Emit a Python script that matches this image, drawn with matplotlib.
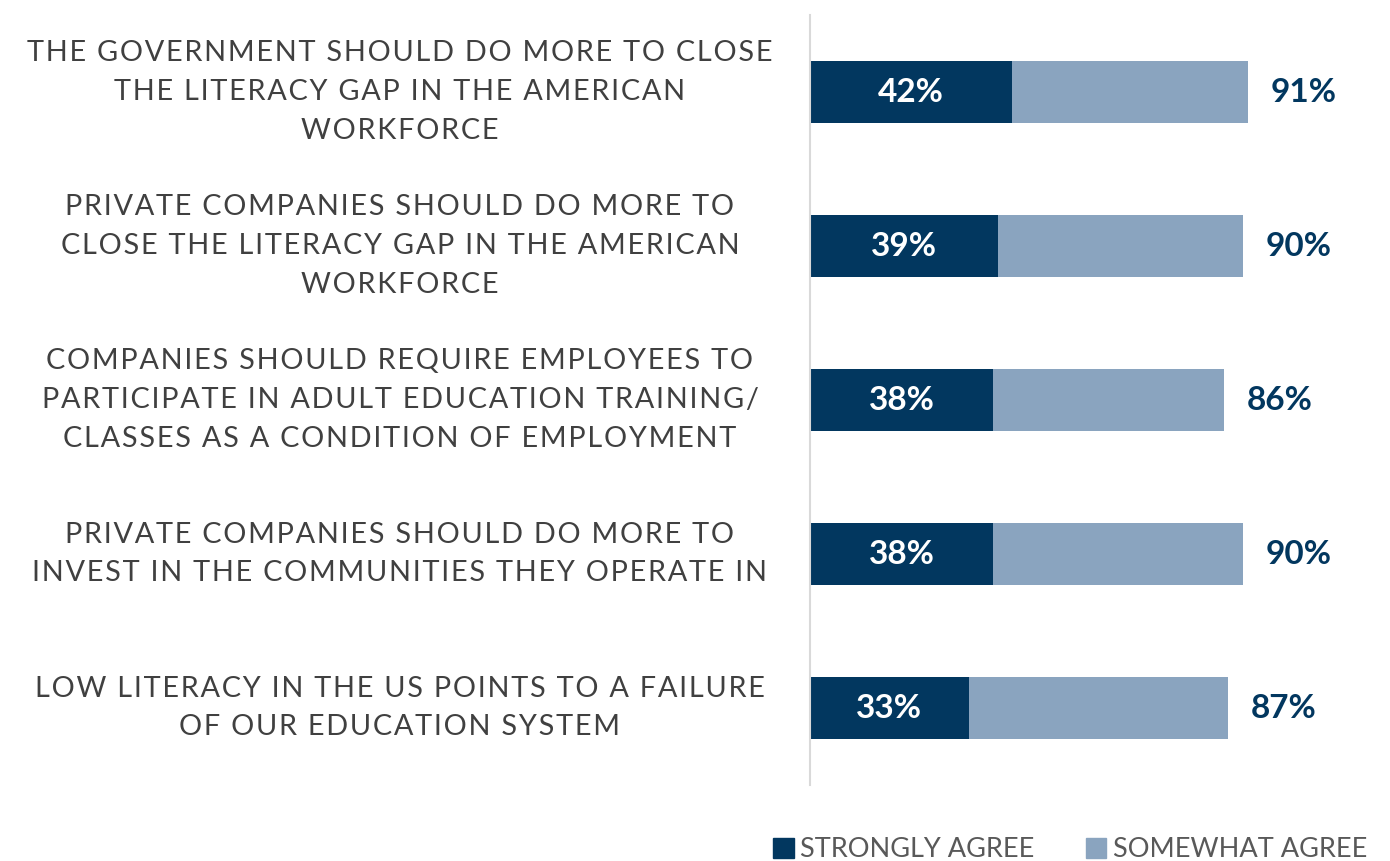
import matplotlib
matplotlib.use("Agg")
import matplotlib.pyplot as plt
from matplotlib.patches import Patch

statements = [
    "THE GOVERNMENT SHOULD DO MORE TO CLOSE\nTHE LITERACY GAP IN THE AMERICAN\nWORKFORCE",
    "PRIVATE COMPANIES SHOULD DO MORE TO\nCLOSE THE LITERACY GAP IN THE AMERICAN\nWORKFORCE",
    "COMPANIES SHOULD REQUIRE EMPLOYEES TO\nPARTICIPATE IN ADULT EDUCATION TRAINING/\nCLASSES AS A CONDITION OF EMPLOYMENT",
    "PRIVATE COMPANIES SHOULD DO MORE TO\nINVEST IN THE COMMUNITIES THEY OPERATE IN",
    "LOW LITERACY IN THE US POINTS TO A FAILURE\nOF OUR EDUCATION SYSTEM",
]
strongly = [42, 39, 38, 38, 33]
total = [91, 90, 86, 90, 87]
somewhat = [t - s for t, s in zip(total, strongly)]

DARK = "#02375F"
LIGHT = "#8AA4BF"

plt.rcParams["font.family"] = ["Lato", "DejaVu Sans"]


def spaced(s):
    # letter spacing like the original slide
    return "\n".join("\u200a".join(line) for line in s.split("\n"))


fig = plt.figure(figsize=(13.9, 8.61), dpi=100)
ax = fig.add_axes([810 / 1390, 1 - 785 / 861, 481 / 1390, 770 / 861])

y = list(range(len(statements)))
ax.barh(y, strongly, height=0.4, color=DARK)
ax.barh(y, somewhat, left=strongly, height=0.4, color=LIGHT)

for i in y:
    ax.text(strongly[i] / 2, i, f"{strongly[i]}%", ha="center", va="center",
            color="white", fontsize=24, fontweight="bold")
    ax.text(total[i] + 4.7, i, f"{total[i]}%", ha="left", va="center",
            color=DARK, fontsize=24, fontweight="bold", clip_on=False)
    ax.text(-410 / 4.81, i, spaced(statements[i]), ha="center", va="center",
            color="#404040", fontsize=20.8, linespacing=1.6, clip_on=False)

ax.set_xlim(0, 100)
ax.set_ylim(4.5, -0.5)
ax.set_xticks([])
ax.set_yticks([])
for side in ["top", "right", "bottom"]:
    ax.spines[side].set_visible(False)
ax.spines["left"].set_color("#D9D9D9")
ax.spines["left"].set_linewidth(1.5)

handles = [Patch(color=DARK, label="STRONGLY AGREE"),
           Patch(color=LIGHT, label="SOMEWHAT AGREE")]
fig.legend(handles=handles, loc="lower right", bbox_to_anchor=(1392 / 1390, -0.03),
           ncol=2, frameon=False, fontsize=19.5, handlelength=0.75, handleheight=0.75,
           handletextpad=0.25, columnspacing=1.9, labelcolor="#595959")

fig.savefig("out.png", dpi=100)
